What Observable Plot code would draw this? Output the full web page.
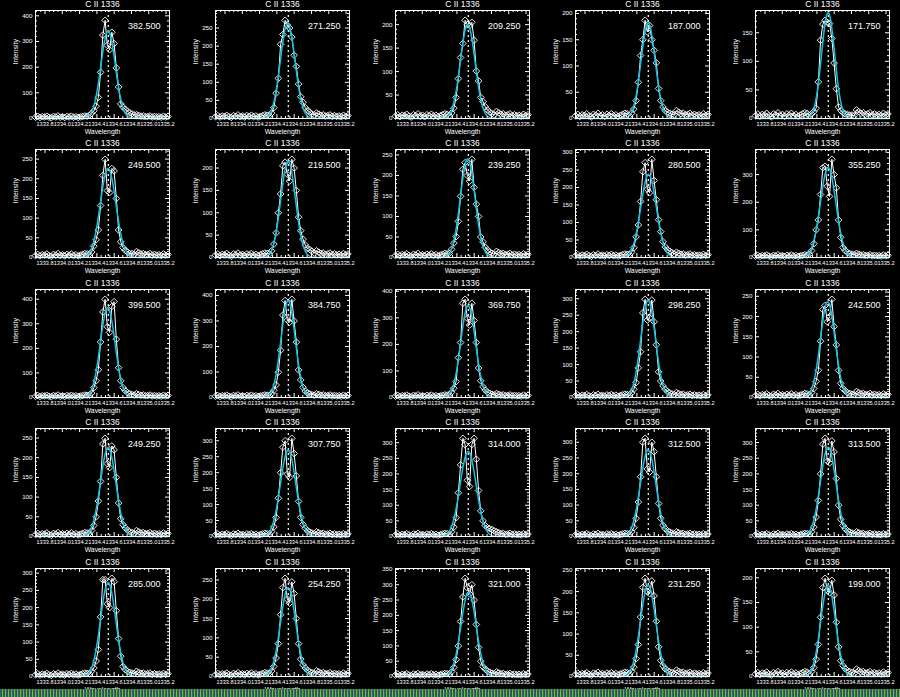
<!DOCTYPE html>
<html><head><meta charset="utf-8">
<script src="https://cdn.jsdelivr.net/npm/d3@7"></script>
<script src="https://cdn.jsdelivr.net/npm/@observablehq/plot@0.6"></script>
<style>
html,body{margin:0;padding:0;background:#000;}
#grid{position:relative;width:900px;height:697px;background:#000;overflow:hidden;}
.panel{position:absolute;width:180px;height:140px;}
.stripe{position:absolute;left:0;top:689px;width:900px;height:8px;background:repeating-linear-gradient(90deg,#1e7d22 0 1px,#3b3f9c 1px 2px,#73b53a 2px 3px);}
</style></head><body><div id="grid"></div>
<script>
const titleText = "C II 1336";
const xLabel = "Wavelength";
const yLabel = "Intensity";
const XMIN = 1333.69, XMAX = 1335.24, LINE_CENTER = 1334.532;
const xTicks = [1333.8, 1334.0, 1334.2, 1334.4, 1334.6, 1334.8, 1335.0, 1335.2];

const wavelengths = [1333.690,1333.716,1333.742,1333.768,1333.794,1333.820,1333.846,1333.872,1333.898,1333.924,
1333.950,1333.976,1334.002,1334.027,1334.053,1334.079,1334.105,1334.131,1334.157,1334.183,
1334.209,1334.235,1334.261,1334.287,1334.313,1334.339,1334.365,1334.391,1334.417,1334.443,
1334.469,1334.495,1334.521,1334.547,1334.573,1334.599,1334.625,1334.651,1334.676,1334.702,
1334.728,1334.754,1334.780,1334.806,1334.832,1334.858,1334.884,1334.910,1334.936,1334.962,
1334.988,1335.014,1335.040,1335.066,1335.092,1335.118,1335.144,1335.170,1335.196,1335.222];

// continuum samples (indices 0-23 and 45-59)
const leftWing = [5,8,4,7,6,9,5,3,8,6,10,5,7,4,8,6,9,5,7,4,6,8,10,9];
const rightWing = [15,12,9,10,7,8,10,6,8,6,7,5,9,6,8];

// line core samples (indices 24-44), one row per panel
const cores = [
[12,20,30,48,82,180,325,382.5,285,268,336,292,197,123,57,45,36,28,22,18,14],
[8,15,30,70,111,205,232,271.25,258,250,225,175,144,95,60,45,30,22,18,12,10],
[6,12,22,45,85,130,160,209.25,200,198,205,167,101,80,45,36,25,18,14,10,8],
[5,10,18,34,69,120,150,187,165,177,150,130,106,57,34,22,15,12,10,8,7],
[5,8,12,18,64,137,165,171.75,168,166,140,97,52,20,14,10,8,7,6,6,5],
[8,14,29,45,70,132,209,249.5,170,165,226,220,150,70,40,25,18,14,10,10,8],
[8,15,30,55,100,142,205,213,186,171,219.5,200,150,90,60,41,28,20,18,14,10],
[10,20,35,51,88,149,215,231,200,186,239.25,171,130,100,50,38,25,18,14,10,8],
[8,15,28,59,93,160,245,271,195,185,280.5,220,165,108,74,45,30,22,18,14,10],
[12,25,50,100,136,228,325,330,258,221,355.25,300,252,136,73,36,25,18,14,12,10],
[10,18,40,68,113,226,348,399.5,288,265,370,390,237,121,68,40,28,20,15,12,10],
[8,15,28,49,99,185,323,380,303,295,384.75,300,217,108,69,40,25,18,14,11,9],
[10,20,35,60,150,207,355,369.75,298,273,355,290,207,111,63,40,28,20,16,12,10],
[8,14,25,45,90,139,257,298.25,235,242,296,230,160,78,50,35,25,18,14,11,9],
[6,12,22,40,67,139,217,227,187,200,242.5,175,130,67,35,22,16,12,10,8,7],
[8,15,28,50,90,140,235,249.25,185,175,230,220,150,85,45,30,22,16,12,10,8],
[8,15,30,60,120,200,280,300,195,185,307.75,260,190,110,60,38,26,18,14,11,9],
[8,15,30,60,140,229,314,294,180,160,294,314,247,147,82,50,35,28,25,22,18],
[8,15,28,58,110,190,300,312.5,215,205,300,270,190,105,58,36,25,18,14,11,9],
[8,15,30,62,115,200,295,313.5,240,235,305,270,185,100,55,35,25,18,14,11,9],
[8,15,25,45,78,173,281,281,211,200,285,275,191,110,59,29,20,15,12,10,8],
[8,14,26,48,85,160,230,254.25,200,190,245,215,150,85,45,30,22,16,12,10,8],
[8,16,30,55,100,180,260,321,290,270,300,250,170,95,50,32,24,18,14,11,9],
[6,12,22,42,75,140,210,231.25,200,195,225,190,130,70,38,25,18,14,11,9,7],
[5,10,18,35,65,120,180,199,175,170,195,165,110,60,32,22,16,12,10,8,6]
];

const maxima = [382.5,271.25,209.25,187,171.75, 249.5,219.5,239.25,280.5,355.25,
399.5,384.75,369.75,298.25,242.5, 249.25,307.75,314,312.5,313.5,
285,254.25,321,231.25,199];

// Gaussian fit parameters per panel: [amplitude, centre, sigma]
const fits = [
[340,1334.530,0.084],[263,1334.525,0.085],[200,1334.525,0.085],[182,1334.530,0.082],[185,1334.530,0.076],
[226,1334.530,0.090],[215,1334.530,0.085],[240,1334.525,0.085],[237,1334.535,0.090],[325,1334.530,0.090],
[365,1334.525,0.085],[380,1334.530,0.082],[345,1334.530,0.085],[295,1334.530,0.085],[236,1334.525,0.085],
[225,1334.530,0.090],[270,1334.530,0.090],[272,1334.530,0.093],[275,1334.530,0.090],[285,1334.530,0.090],
[272,1334.530,0.088],[230,1334.530,0.088],[275,1334.535,0.088],[215,1334.530,0.088],[185,1334.530,0.085]
];

const FONT = "Liberation Sans, Arial, sans-serif";
const W = 180, H = 140, ML = 35, MR = 11, MT = 10, MB = 22;
const grid = document.getElementById("grid");

function panel(k) {
  const values = leftWing.concat(cores[k], rightWing);
  const data = wavelengths.map((w, i) => ({w, v: values[i]}));
  const ymax = maxima[k] * 1.1;
  const step = ymax > 360 ? 100 : 50;
  const yt = d3.range(0, ymax + 1e-9, step);
  const ytm = d3.range(0, ymax, step / 5).filter(v => Math.abs(v / step - Math.round(v / step)) > 1e-6);
  const xtm = d3.range(1333.70, XMAX, 0.05).filter(v => Math.abs(v * 5 - Math.round(v * 5)) > 1e-6);
  const [amp, c, s] = fits[k];
  const fit = d3.range(XMIN, XMAX, 0.004).map(w => ({w, v: amp * Math.exp(-((w - c) ** 2) / (2 * s * s))}));
  const pxY = (H - MT - MB) / ymax, pxX = (W - ML - MR) / (XMAX - XMIN);
  const tY = 4 / pxY, tX = 4 / pxX;
  const fmt = d3.format(".1f");
  const T = {fill: "white", lineAnchor: "middle"};
  const svg = Plot.plot({
    width: W, height: H, marginLeft: ML, marginRight: MR, marginTop: MT, marginBottom: MB,
    style: {background: "transparent", color: "white", fontFamily: FONT, overflow: "visible"},
    x: {domain: [XMIN, XMAX], axis: null},
    y: {domain: [0, ymax], axis: null},
    marks: [
      Plot.ruleX([LINE_CENTER], {stroke: "white", strokeWidth: 1.2, strokeDasharray: "2,3"}),
      Plot.line(data, {x: "w", y: "v", stroke: "white", strokeWidth: 1}),
      Plot.dot(data, {x: "w", y: "v", symbol: "diamond2", r: 3, stroke: "white", fill: "none", strokeWidth: 0.9}),
      Plot.line(fit, {x: "w", y: "v", stroke: "#12c2e4", strokeWidth: 1.5}),
      Plot.frame({stroke: "white", strokeWidth: 1}),
      Plot.ruleX(xTicks, {x: d => d, y1: 0, y2: tY, stroke: "white"}),
      Plot.ruleX(xTicks, {x: d => d, y1: ymax, y2: ymax - tY, stroke: "white"}),
      Plot.ruleX(xtm, {x: d => d, y1: 0, y2: tY / 2, stroke: "white"}),
      Plot.ruleX(xtm, {x: d => d, y1: ymax, y2: ymax - tY / 2, stroke: "white"}),
      Plot.ruleY(yt, {y: d => d, x1: XMIN, x2: XMIN + tX, stroke: "white"}),
      Plot.ruleY(yt, {y: d => d, x1: XMAX, x2: XMAX - tX, stroke: "white"}),
      Plot.ruleY(ytm, {y: d => d, x1: XMIN, x2: XMIN + tX / 2, stroke: "white"}),
      Plot.ruleY(ytm, {y: d => d, x1: XMAX, x2: XMAX - tX / 2, stroke: "white"}),
      Plot.text(yt, {...T, x: XMIN, y: d => d, text: d => String(d), textAnchor: "end", dx: -3, fontSize: 6.2}),
      Plot.text(xTicks, {...T, x: d => d, frameAnchor: "bottom", text: d => fmt(d), dy: 6, fontSize: 5.6}),
      Plot.text([xLabel], {...T, frameAnchor: "bottom", text: d => d, dy: 13, fontSize: 6.8}),
      Plot.text([yLabel], {...T, frameAnchor: "left", text: d => d, dx: -20, rotate: -90, fontSize: 6.8}),
      Plot.text([titleText], {...T, frameAnchor: "top", text: d => d, dy: -6, fontSize: 8.5}),
      Plot.text([maxima[k]], {...T, frameAnchor: "top-right", text: d => d.toFixed(3), dx: -9, dy: 16, textAnchor: "end", fontSize: 9})
    ]
  });
  const div = document.createElement("div");
  div.className = "panel";
  div.style.left = (k % 5) * 180 + "px";
  div.style.top = Math.round(Math.floor(k / 5) * 139.4) + "px";
  div.appendChild(svg);
  grid.appendChild(div);
}
for (let k = 0; k < 25; k++) panel(k);
const stripe = document.createElement("div");
stripe.className = "stripe";
grid.appendChild(stripe);
</script>
</body></html>
